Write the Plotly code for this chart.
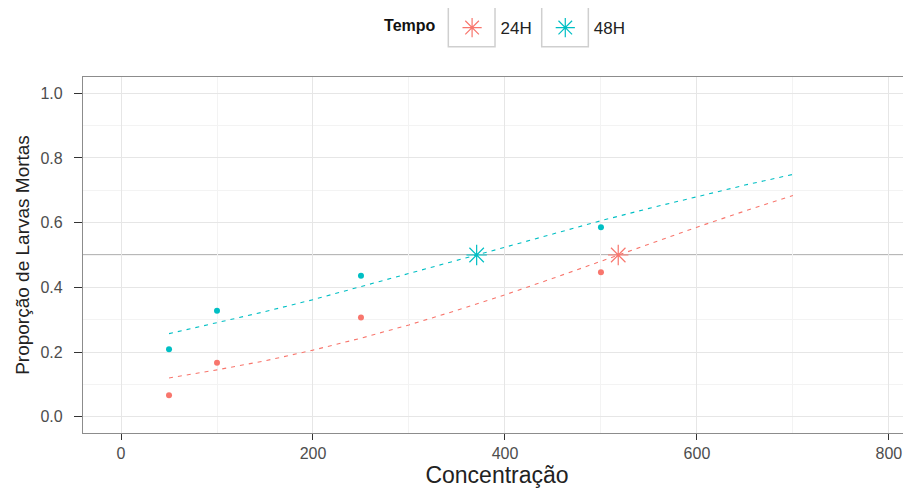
import plotly.graph_objects as go

# Observed proportions
conc_obs = [50, 100, 250, 500]
prop_24h = [0.067, 0.167, 0.307, 0.447]
prop_48h = [0.209, 0.328, 0.436, 0.586]

# Fitted curves
conc_fit = [50, 100, 150, 200, 250, 300, 350, 400, 450, 500, 550, 600, 650, 700]
fit_24h = [0.120, 0.145, 0.173, 0.206, 0.243, 0.284, 0.329, 0.377, 0.428, 0.481, 0.534, 0.586, 0.636, 0.684]
fit_48h = [0.257, 0.290, 0.325, 0.362, 0.402, 0.442, 0.483, 0.524, 0.565, 0.606, 0.644, 0.681, 0.716, 0.749]

# LC50 estimates
lc50_x = [518, 370.5]
lc50_y = [0.5, 0.5]
groups = ["24H", "48H"]
colors = ["#F8766D", "#00BFC4"]

FONT = "Liberation Sans, Arial, sans-serif"

fig = go.Figure()

fig.add_hline(y=0.5, line=dict(color="#a0a0a0", width=1.4), layer="below")

for obs, fit, col in [(prop_24h, fit_24h, colors[0]), (prop_48h, fit_48h, colors[1])]:
    fig.add_trace(go.Scatter(x=conc_fit, y=fit, mode="lines",
                             line=dict(color=col, width=1.1, dash="4px,5px"),
                             showlegend=False, hoverinfo="skip"))
    fig.add_trace(go.Scatter(x=conc_obs, y=obs, mode="markers",
                             marker=dict(color=col, size=6),
                             showlegend=False))

for i, g in enumerate(groups):
    fig.add_trace(go.Scatter(x=[lc50_x[i]], y=[lc50_y[i]], mode="markers", name=g,
                             marker=dict(symbol="asterisk-open", size=17, color=colors[i],
                                         line=dict(color=colors[i], width=1.2))))

# legend key boxes (ggplot-style)
for x0, x1 in [(0.4412, 0.4976), (0.554, 0.6103)]:
    fig.add_shape(type="rect", xref="paper", yref="paper", x0=x0, x1=x1, y0=1.0851, y1=1.1975,
                  line=dict(color="#cfcfcf", width=1.5), fillcolor="rgba(0,0,0,0)", layer="above")

# page body has an 8px margin: figure is drawn at (8, 8)
fig.update_layout(
    width=903, height=483,
    margin=dict(l=75, r=0, t=69, b=58, autoexpand=False),
    paper_bgcolor="white", plot_bgcolor="white",
    font=dict(family=FONT, color="#222"),
    legend=dict(orientation="h", x=0.511, xanchor="center", y=1.1376, yanchor="middle",
                bgcolor="rgba(0,0,0,0)",
                title=dict(text="<b>Tempo</b>", font=dict(size=16, color="#111")),
                font=dict(size=17, color="#222"), itemsizing="trace", itemwidth=47),
    xaxis=dict(range=[-39.6, 823], tickvals=[0, 200, 400, 600, 800],
               showgrid=True, gridcolor="#e6e6e6", gridwidth=1.3,
               minor=dict(dtick=100, tick0=0, showgrid=True, gridcolor="#f3f3f3", gridwidth=1, ticklen=0),
               zeroline=False, showline=True, linecolor="#8c8c8c", linewidth=1.3, mirror=True,
               ticks="outside", ticklen=6, tickcolor="#333", tickwidth=1.2,
               ticklabelstandoff=0, automargin=False,
               tickfont=dict(size=16, color="#4d4d4d"),
               title=dict(text="Concentração", font=dict(size=23, color="#222"), standoff=1)),
    yaxis=dict(range=[-0.05, 1.05], tickvals=[0, 0.2, 0.4, 0.6, 0.8, 1.0], tickformat=".1f",
               showgrid=True, gridcolor="#e6e6e6", gridwidth=1.3,
               minor=dict(dtick=0.1, tick0=0, showgrid=True, gridcolor="#f3f3f3", gridwidth=1, ticklen=0),
               zeroline=False, showline=True, linecolor="#8c8c8c", linewidth=1.3, mirror=True,
               ticks="outside", ticklen=8, tickcolor="#333", tickwidth=1.2,
               ticklabelstandoff=8, automargin=False,
               tickfont=dict(size=16, color="#4d4d4d"),
               title=dict(text="Proporção de Larvas Mortas", font=dict(size=19, color="#222"), standoff=5)),
)

fig.write_html("out.html")
